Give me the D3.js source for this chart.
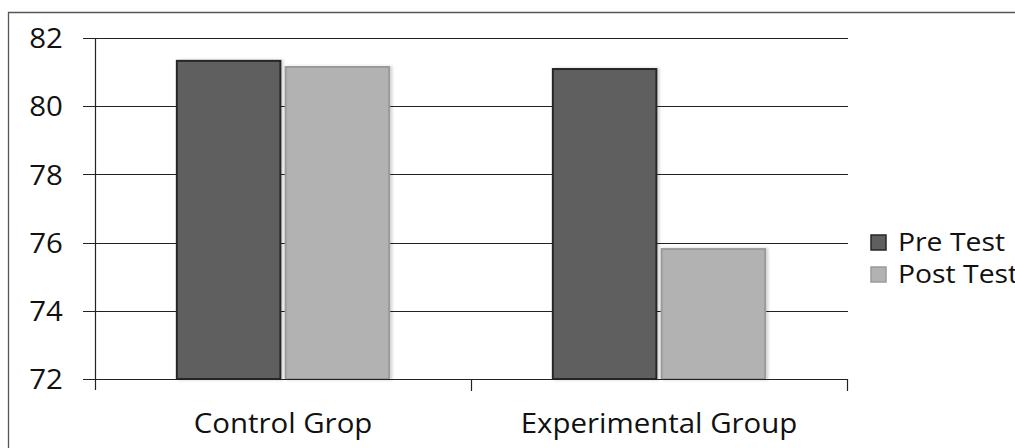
<!DOCTYPE html>
<html><head><meta charset="utf-8">
<script src="https://cdn.jsdelivr.net/npm/d3@7"></script>
<style>
html,body{margin:0;padding:0;background:#fff;}
svg text{font-family:"Open Sans",Lato,"Noto Sans",sans-serif;fill:#111;}
</style></head>
<body><svg id="c" width="1015" height="448"></svg>
<script>
const categories = ["Control Grop", "Experimental Group"];
const series = ["Pre Test", "Post Test"];
const preTest = [81.33, 81.09];
const postTest = [81.15, 75.81];
const yTicks = [72, 74, 76, 78, 80, 82];

const svg = d3.select("#c");
const W = 1015, H = 448;
const mLeft = 95, mRight = 847, mTop = 38, mBottom = 379;
const FS = "27px";
const SX = 1.09;

const defs = svg.append("defs");
const f = defs.append("filter").attr("id","sh").attr("x","-10%").attr("y","-10%").attr("width","130%").attr("height","130%");
f.append("feDropShadow").attr("dx",2).attr("dy",0).attr("stdDeviation",1.5).attr("flood-color","#000").attr("flood-opacity",0.18);

// outer frame (left + top)
svg.append("path").attr("d",`M8.5,${H}V12.5H${W}`).attr("fill","none").attr("stroke","#555").attr("stroke-width",1.3);

const y = d3.scaleLinear().domain([72,82]).range([mBottom, mTop]);
const x0 = d3.scaleBand().domain(categories).range([mLeft, mRight]).paddingInner(0).paddingOuter(0);
const x1 = d3.scaleBand().domain(series).range([x0.bandwidth()*0.215, x0.bandwidth()*0.785]).paddingInner(0.03);

// gridlines
svg.append("g").selectAll("line").data(yTicks).join("line")
  .attr("x1", mLeft-12).attr("x2", mRight+1)
  .attr("y1", d=>Math.round(y(d))+0.5).attr("y2", d=>Math.round(y(d))+0.5)
  .attr("stroke","#222").attr("stroke-width",1.2);

// y axis
const yAxis = d3.axisLeft(y).tickValues(yTicks).tickSize(12).tickPadding(8).tickFormat(d3.format("d"));
const gy = svg.append("g").attr("transform",`translate(${mLeft+0.5},0)`).call(yAxis);
gy.select(".domain").remove();
gy.selectAll(".tick line").remove();
gy.selectAll("text").style("font-size",FS).attr("dy","0.36em").attr("x",-30)
  .attr("transform",`scale(${SX},1)`);
svg.append("line").attr("x1",mLeft+0.5).attr("x2",mLeft+0.5).attr("y1",mTop).attr("y2",mBottom+11).attr("stroke","#222").attr("stroke-width",1.2);

const data = categories.map((c,i)=>({cat:c, vals:[{s:series[0],v:preTest[i]},{s:series[1],v:postTest[i]}]}));
const fill = {"Pre Test":"#5f5f5f","Post Test":"#b2b2b2"};
const stroke = {"Pre Test":"#262626","Post Test":"#9a9a9a"};

const g = svg.append("g").selectAll("g").data(data).join("g")
  .attr("transform", d=>`translate(${x0(d.cat)},0)`);
g.selectAll("rect").data(d=>d.vals).join("rect")
  .attr("x", d=>x1(d.s)+1)
  .attr("width", x1.bandwidth()-2)
  .attr("y", d=>y(d.v))
  .attr("height", d=>y(72)-y(d.v))
  .attr("fill", d=>fill[d.s])
  .attr("stroke", d=>stroke[d.s])
  .attr("stroke-width",2)
  .attr("filter","url(#sh)");

// x axis
const xAxis = d3.axisBottom(x0).tickSize(0).tickPadding(30);
const gx = svg.append("g").attr("transform",`translate(0,${mBottom+0.5})`).call(xAxis);
gx.select(".domain").remove();
gx.selectAll("text").style("font-size",FS).attr("dy","0").attr("y",54)
  .attr("transform",`scale(${SX},1)`);
svg.append("line").attr("x1",mLeft).attr("x2",mRight+1).attr("y1",mBottom+0.5).attr("y2",mBottom+0.5).attr("stroke","#222").attr("stroke-width",1.2);
const bounds = categories.map(c=>x0(c)+x0.bandwidth());
svg.append("g").selectAll("line").data(bounds).join("line")
  .attr("x1",d=>Math.round(d)+0.5).attr("x2",d=>Math.round(d)+0.5)
  .attr("y1",mBottom).attr("y2",mBottom+12).attr("stroke","#222").attr("stroke-width",1.2);

// legend
const lg = svg.append("g").selectAll("g").data(series).join("g")
  .attr("transform",(d,i)=>`translate(871,${235+i*32})`);
lg.append("rect").attr("width",15).attr("height",15).attr("fill",d=>fill[d]).attr("stroke",d=>stroke[d]).attr("stroke-width",1.5);
lg.append("text").attr("transform",`translate(27,16) scale(${SX},1)`).style("font-size","26px").text(d=>d);
</script></body></html>
